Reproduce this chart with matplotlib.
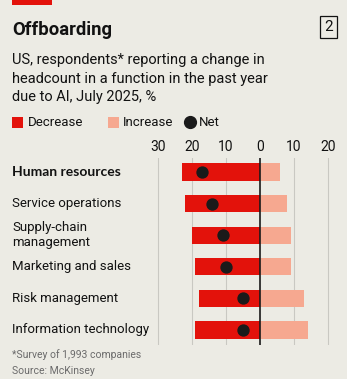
import matplotlib.pyplot as plt
import matplotlib.transforms as mtransforms
from matplotlib.patches import Rectangle

# Dati
funzioni = ['Human resources', 'Service operations', 'Supply-chain\nmanagement',
            'Marketing and sales', 'Risk management', 'Information technology']
diminuzione = [23, 22, 20, 19, 18, 19]
aumento = [6, 8, 9, 9, 13, 14]
netto = [-17, -14, -11, -10, -5, -5]
tick_val = [-30, -20, -10, 0, 10, 20]
tick_lab = ['30', '20', '10', '0', '10', '20']

sfondo = '#ECEBE4'
rosso = '#E3120B'
salmone = '#F6A890'

plt.rcParams['font.family'] = ['Roboto', 'DejaVu Sans']

W, H = 347, 379
fig = plt.figure(figsize=(W / 100, H / 100), dpi=100, facecolor=sfondo)

def fy(px):
    return 1 - px / H

def fx(px):
    return px / W

# barra rossa in alto
fig.patches.append(Rectangle((fx(12), fy(5)), fx(40), 5 / H, transform=fig.transFigure,
                             color=rosso, lw=0))

fig.text(fx(12), fy(30), 'Offboarding', fontsize=13.3, fontweight='bold',
         color='#121212', va='center', ha='left')
fig.text(fx(328.5), fy(27), '2', fontsize=11, color='#121212', va='center', ha='center',
         bbox=dict(boxstyle='square,pad=0.25', fc='none', ec='#121212', lw=0.9))

sottotitolo = ['US, respondents* reporting a change in',
               'headcount in a function in the past year',
               'due to AI, July 2025, %']
for i, riga in enumerate(sottotitolo):
    fig.text(fx(12), fy(60 + 18.5 * i), riga, fontsize=10.5, color='#121212',
             va='center', ha='left')

# legenda
fig.patches.append(Rectangle((fx(12), fy(128)), fx(11), 11 / H, transform=fig.transFigure,
                             color=rosso, lw=0))
fig.text(fx(28), fy(122), 'Decrease', fontsize=9.5, color='#121212', va='center')
fig.patches.append(Rectangle((fx(108), fy(128)), fx(11), 11 / H, transform=fig.transFigure,
                             color=salmone, lw=0))
fig.text(fx(123), fy(122), 'Increase', fontsize=9.5, color='#121212', va='center')
fig.lines.append(plt.Line2D([fx(190)], [fy(122)], transform=fig.transFigure, marker='o',
                            markersize=8.5, color='#1A1A1A', lw=0))
fig.text(fx(199), fy(122), 'Net', fontsize=9.5, color='#121212', va='center')

# assi
x0, x1 = -33, 25
sx = 3.4
left_px = 260 + x0 * sx
ax_w = (x1 - x0) * sx
top_px, bot_px = 158, 345
ax = fig.add_axes([left_px / W, 1 - bot_px / H, ax_w / W, (bot_px - top_px) / H])
ax.set_facecolor(sfondo)
y = list(range(len(funzioni)))
passo = 31.6
ax.set_xlim(x0, x1)
ax.set_ylim(len(funzioni) - 1 + 15 / passo, -14 / passo)

for v in tick_val:
    if v != 0:
        ax.axvline(v, color='#C9C8C2', lw=0.8, zorder=0)

ax.barh(y, [-d for d in diminuzione], height=0.54, color=rosso, zorder=2)
ax.barh(y, aumento, height=0.54, color=salmone, zorder=2)
ax.axvline(0, color='#1A1A1A', lw=1.2, zorder=3)
ax.scatter(netto, y, s=62, color='#1A1A1A', zorder=4)

ax.xaxis.tick_top()
ax.set_xticks(tick_val)
ax.set_xticklabels(tick_lab, fontsize=10, color='#121212')
ax.tick_params(axis='x', length=0, pad=3)
ax.set_yticks([])
for s in ax.spines.values():
    s.set_visible(False)

trans = mtransforms.blended_transform_factory(fig.transFigure, ax.transData)
for i, nome in enumerate(funzioni):
    if i == 0:
        ax.text(fx(12), i, nome, transform=trans, fontsize=10, color='#121212',
                va='center', ha='left', fontweight='bold', family=['Lato', 'DejaVu Sans'])
    else:
        ax.text(fx(12), i, nome, transform=trans, fontsize=9.5, color='#121212',
                va='center', ha='left', linespacing=1.25)

fig.text(fx(12), fy(355), '*Survey of 1,993 companies', fontsize=7.5, color='#6B6B6B',
         va='center')
fig.text(fx(12), fy(371), 'Source: McKinsey', fontsize=7.5, color='#6B6B6B', va='center')

fig.savefig('out.png', dpi=100, facecolor=sfondo)
